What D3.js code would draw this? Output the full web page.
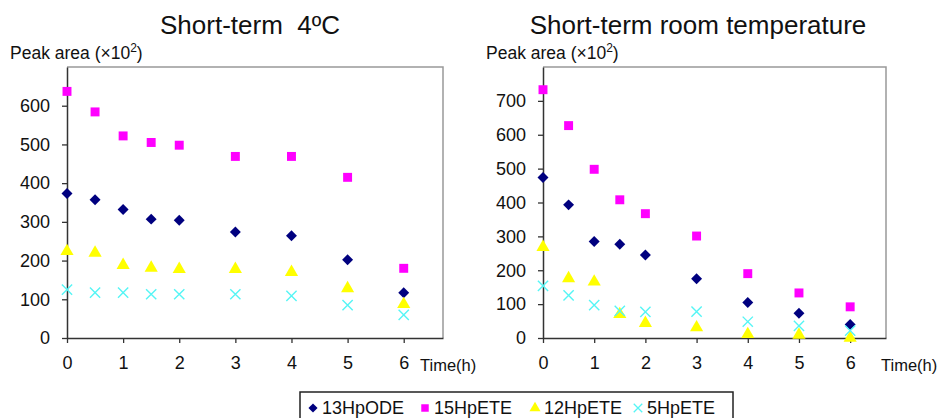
<!DOCTYPE html>
<html>
<head>
<meta charset="utf-8">
<script src="https://cdn.jsdelivr.net/npm/d3@7.9.0/dist/d3.min.js"></script>
<style>
  body { margin: 0; background: #fff; }
  svg { display: block; font-family: "Liberation Sans", Arial, sans-serif; }
</style>
</head>
<body>
<svg id="chart" width="941" height="418"></svg>
<script>
// time points (h)
const times = [0, 0.5, 1, 1.5, 2, 3, 4, 5, 6];
const xTicks = [0, 1, 2, 3, 4, 5, 6];

// Short-term 4ºC
const cold13HpODE = [373, 357, 332, 307, 304, 274, 264, 202, 117];
const cold15HpETE = [637, 584, 522, 505, 498, 469, 469, 415, 180];
const cold12HpETE = [224, 220, 188, 181, 178, 178, 170, 128, 87];
const cold5HpETE  = [125, 117, 117, 113, 113, 113, 109, 85, 60];
const coldTicks = [0, 100, 200, 300, 400, 500, 600];

// Short-term room temperature
const room13HpODE = [474, 393, 285, 277, 245, 175, 105, 73, 40];
const room15HpETE = [733, 627, 498, 408, 367, 301, 190, 133, 92];
const room12HpETE = [268, 176, 166, 70, 44, 31, 11, 9, 0];
const room5HpETE  = [154, 126, 97, 80, 77, 78, 48, 36, 22];
const roomTicks = [0, 100, 200, 300, 400, 500, 600, 700];

const seriesNames = ['13HpODE', '15HpETE', '12HpETE', '5HpETE'];

// square turned 45 degrees, like the Excel diamond marker
const squareDiamond = {
  draw(ctx, size) {
    const r = Math.sqrt(size / 2);
    ctx.moveTo(0, -r); ctx.lineTo(r, 0); ctx.lineTo(0, r); ctx.lineTo(-r, 0); ctx.closePath();
  }
};

const styles = {
  '13HpODE': { symbol: squareDiamond, size: 60, fill: '#00007f', stroke: 'none' },
  '15HpETE': { symbol: d3.symbolSquare, size: 80, fill: '#ff00ff', stroke: 'none' },
  '12HpETE': { symbol: d3.symbolTriangle, size: 75, fill: '#ffff00', stroke: 'none' },
  '5HpETE':  { symbol: d3.symbolTimes, size: 70, fill: 'none', stroke: '#55f5f5' }
};

const svg = d3.select('#chart');

function drawPanel(opts) {
  const x = d3.scaleLinear().domain([0, 6.7]).range([opts.left, opts.right]);
  const y = d3.scaleLinear().domain([0, opts.yMax]).range([338, 67]);
  const g = svg.append('g');

  // plot frame (top/right grey)
  g.append('path')
    .attr('d', `M${opts.left},67H${opts.right}V338`)
    .attr('fill', 'none').attr('stroke', '#999').attr('stroke-width', 1.5);

  const yAxis = g.append('g')
    .attr('transform', `translate(${opts.left},0)`)
    .call(d3.axisLeft(y).tickValues(opts.ticks).tickSize(5).tickPadding(12).tickSizeOuter(0));
  const xAxis = g.append('g')
    .attr('transform', 'translate(0,338)')
    .call(d3.axisBottom(x).tickValues(xTicks).tickFormat(d3.format('d'))
      .tickSize(5).tickPadding(13).tickSizeOuter(0));
  [yAxis, xAxis].forEach(a => {
    a.select('.domain').attr('stroke', '#333').attr('stroke-width', 1.5);
    a.selectAll('.tick line').attr('stroke', '#333').attr('stroke-width', 1.3);
    a.selectAll('text').attr('font-size', 18).attr('fill', '#111')
      .attr('font-family', '"Liberation Sans", Arial, sans-serif');
  });

  // title and axis captions
  g.append('text').attr('x', opts.titleX).attr('y', 34)
    .attr('text-anchor', 'middle').attr('font-size', 26).attr('fill', '#111')
    .text(opts.title);
  const lab = g.append('text').attr('x', opts.left - 57).attr('y', 59)
    .attr('font-size', 17.5).attr('fill', '#111');
  lab.append('tspan').text('Peak area (×10');
  lab.append('tspan').attr('font-size', 12).attr('dy', -7).text('2');
  lab.append('tspan').attr('dy', 7).text(')');
  g.append('text').attr('x', opts.timeX).attr('y', 371)
    .attr('font-size', 16.5).attr('fill', '#111').text('Time(h)');

  // points
  seriesNames.forEach((name, i) => {
    const st = styles[name];
    const sym = d3.symbol().type(st.symbol).size(st.size);
    g.append('g').selectAll('path')
      .data(opts.series[i].map((v, j) => ({ t: times[j], v })))
      .join('path')
      .attr('transform', d => `translate(${x(d.t)},${y(d.v)})`)
      .attr('d', sym)
      .attr('fill', st.fill)
      .attr('stroke', st.stroke)
      .attr('stroke-width', 1.4);
  });
}

drawPanel({
  left: 67, right: 443, yMax: 700, ticks: coldTicks,
  title: 'Short-term\u00a0 4ºC', titleX: 250, timeX: 420,
  series: [cold13HpODE, cold15HpETE, cold12HpETE, cold5HpETE]
});
drawPanel({
  left: 543, right: 886, yMax: 800, ticks: roomTicks,
  title: 'Short-term room temperature', titleX: 698, timeX: 881,
  series: [room13HpODE, room15HpETE, room12HpETE, room5HpETE]
});

// legend
const legend = svg.append('g');
legend.append('rect').attr('x', 300).attr('y', 392).attr('width', 433).attr('height', 40)
  .attr('fill', '#fff').attr('stroke', '#222').attr('stroke-width', 1.5);
const legendX = [313, 425, 535, 638];
seriesNames.forEach((name, i) => {
  const st = styles[name];
  legend.append('path')
    .attr('transform', `translate(${legendX[i]},408)`)
    .attr('d', d3.symbol().type(st.symbol).size(st.size * 0.7))
    .attr('fill', st.fill).attr('stroke', st.stroke).attr('stroke-width', 1.3);
  legend.append('text').attr('x', legendX[i] + 9).attr('y', 414)
    .attr('font-size', 18).attr('fill', '#111').text(name);
});
</script>
</body>
</html>
